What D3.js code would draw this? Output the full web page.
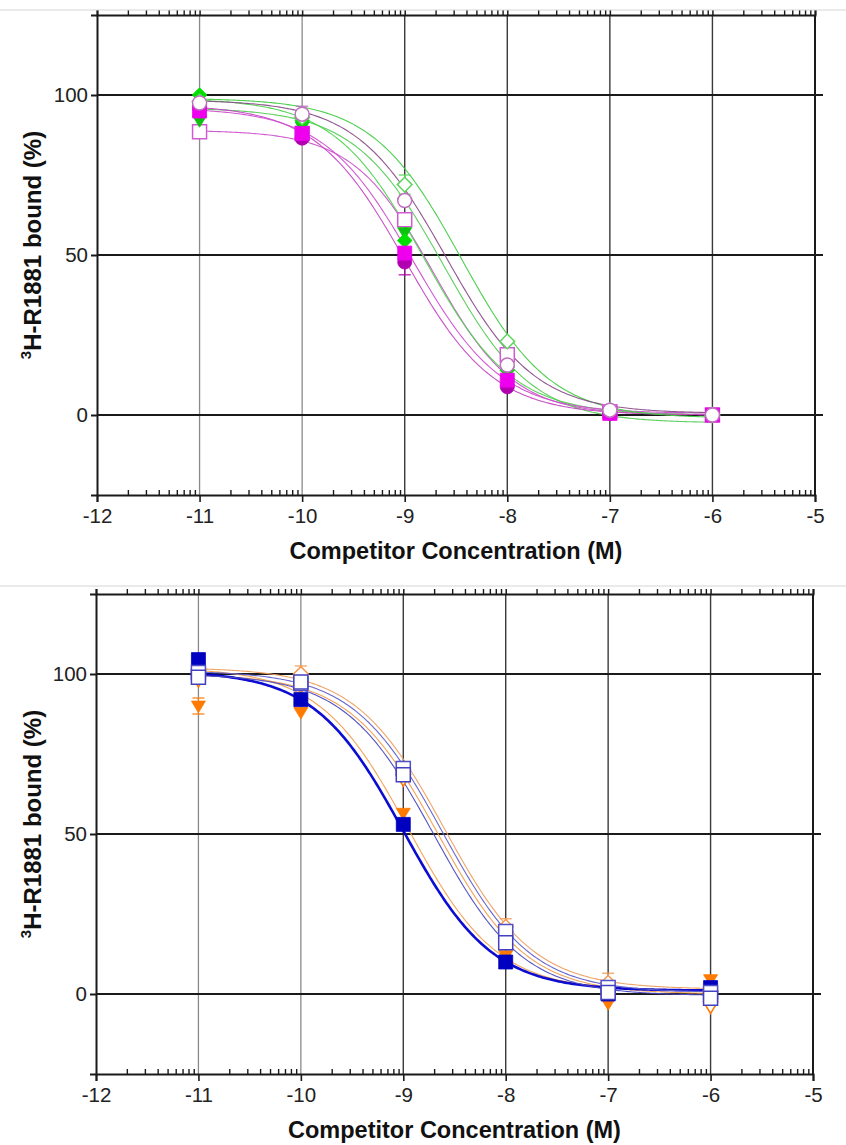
<!DOCTYPE html>
<html>
<head>
<meta charset="utf-8">
<script src="https://cdn.jsdelivr.net/npm/d3@7"></script>
<style>
  html, body { margin: 0; padding: 0; background: #fff; }
  svg { display: block; }
  text { font-family: "Liberation Sans", Arial, sans-serif; }
</style>
</head>
<body>
<svg id="chart" width="846" height="1145"></svg>
<script>
// Competition binding: log molar competitor concentration vs 3H-R1881 bound (%)
const logConc = [-11, -10, -9, -8, -7, -6];
const xTickValues = [-12, -11, -10, -9, -8, -7, -6, -5];
const yTickValues = [0, 50, 100];
const xDomain = [-12, -5];
const yDomain = [-25, 125];
const xTitle = "Competitor Concentration (M)";
const yTitleSup = "3";
const yTitleMain = "H-R1881 bound (%)";

// Upper panel: measured binding (%) at each concentration
const greenOpenDiamond   = [98, 93, 72, 23, 1.5, 0];
const greenFilledDiamond = [100, 92, 54.5, 14, 1, 0];
const greenFilledTri     = [92, 90, 57, 13.5, 1, 0];
const magentaOpenCircle  = [97.5, 94, 67, 15.6, 1.5, 0];
const magentaOpenSquare  = [88.5, 88, 61, 18.8, 1, 0];
const magentaFilledSq    = [95, 88, 50.6, 10.9, 0.5, 0];
const magentaFilledCirc  = [96, 86.5, 47.8, 8.8, 0.5, 0];

// Upper panel: error (±) per point
const greenOpenDiamondErr  = [0, 0, 3, 0, 0, 0];
const magentaOpenCircleErr = [0, 2.5, 0, 0, 0, 0];
const magentaFilledCircErr = [0, 0, 4, 0, 0, 0];

// Upper panel: fitted curve parameters [top, bottom, logIC50, hill]
const greenOpenDiamondFit   = [99, -1, -8.45, 1.0];
const greenFilledDiamondFit = [99, 0, -8.82, 1.0];
const greenFilledTriFit     = [96, -2.5, -8.62, 1.0];
const magentaOpenCircleFit  = [98.5, 0.5, -8.6, 1.0];
const magentaOpenSquareFit  = [89, 0, -8.72, 1.1];
const magentaFilledSqFit    = [96, 0.5, -8.92, 1.0];
const magentaFilledCircFit  = [97, 0, -9.0, 1.0];

// Lower panel: measured binding (%)
const blueFilledSquare  = [104.5, 92, 53, 10, 0, 2];
const blueOpenSquare    = [99, 97.5, 68.5, 16, 0.5, -1.3];
const blueOpenSquare2   = [100.5, 97, 70.5, 19.5, 2, 0.5];
const orangeFilledTri   = [90, 88, 56.5, 12, -3, 4.5];
const orangeOpenDiamond = [101.5, 100, 70, 21, 3.5, 1];
const orangeOpenTri     = [98, 96, 67, 18, 1, -4];

// Lower panel: error (±)
const orangeFilledTriErr   = [2.5, 0, 0, 0, 0, 0];
const orangeOpenDiamondErr = [0, 2.5, 0, 2.5, 3, 0];
const blueOpenSquareErr    = [0, 1.5, 1.5, 0, 0, 0];

// Lower panel: fitted curve parameters [top, bottom, logIC50, hill]
const blueFilledSquareFit  = [101, 1, -9.0, 1.0];
const blueOpenSquareFit    = [100, -0.5, -8.7, 1.0];
const blueOpenSquare2Fit   = [101, 0.5, -8.62, 1.0];
const orangeFilledTriFit   = [102, 1, -8.95, 1.0];
const orangeOpenDiamondFit = [102, 1.5, -8.6, 1.0];
const orangeOpenTriFit     = [100, 0, -8.66, 1.0];

// ---- drawing ----
const svg = d3.select("#chart");

// marker outlines (half-size s)
const shapes = {
  square: s => `M${-s},${-s}H${s}V${s}H${-s}Z`,
  circle: s => `M${-s},0A${s},${s} 0 1,0 ${s},0A${s},${s} 0 1,0 ${-s},0Z`,
  diamond: s => `M0,${-s * 1.05}L${s * 1.05},0L0,${s * 1.05}L${-s * 1.05},0Z`,
  triDown: s => `M${-s},${-s * 0.7}H${s}L0,${s * 0.95}Z`,
  triUp: s => `M${-s},${s * 0.7}H${s}L0,${-s * 0.95}Z`
};

function logistic(p) {
  const [top, bottom, ic, hill] = p;
  return x => bottom + (top - bottom) / (1 + Math.pow(10, (x - ic) * hill));
}

const minorTicks = [];
for (let d = -12; d < -5; d++) {
  for (let k = 2; k <= 9; k++) minorTicks.push(d + Math.log10(k));
}

function drawPanel(cfg) {
  const g = svg.append("g");
  const x = d3.scaleLinear().domain(xDomain).range([cfg.left, cfg.right]);
  const y = d3.scaleLinear().domain(yDomain).range([cfg.bottom, cfg.top]);

  // vertical grid lines at each decade
  g.append("g").selectAll("line")
    .data(xTickValues.slice(1, -1))
    .join("line")
    .attr("x1", d => x(d)).attr("x2", d => x(d))
    .attr("y1", cfg.top).attr("y2", cfg.bottom)
    .attr("stroke", d => d <= -10 ? "#8a8a8a" : "#3a3a3a")
    .attr("stroke-width", d => d <= -10 ? 1.3 : 1.4);

  // horizontal grid lines at 0, 50, 100 (run past the frame on the right)
  g.append("g").selectAll("line")
    .data(yTickValues)
    .join("line")
    .attr("x1", cfg.left).attr("x2", cfg.right + 8)
    .attr("y1", d => y(d)).attr("y2", d => y(d))
    .attr("stroke", "#1a1a1a")
    .attr("stroke-width", 2);

  // right frame edge
  g.append("line")
    .attr("x1", cfg.right).attr("x2", cfg.right)
    .attr("y1", cfg.top).attr("y2", cfg.bottom)
    .attr("stroke", "#1a1a1a").attr("stroke-width", 2);

  // bottom axis: major ticks outward with labels, minor ticks inward
  const bottomAxis = d3.axisBottom(x).tickValues(xTickValues).tickSize(7).tickPadding(6)
    .tickFormat(d => d3.format("d")(d).replace("−", "-"));
  const ba = g.append("g").attr("transform", `translate(0,${cfg.bottom})`).call(bottomAxis);
  ba.attr("font-size", 20.5).attr("font-family", "Liberation Sans, Arial, sans-serif");
  ba.select(".domain").attr("stroke", "#1a1a1a").attr("stroke-width", 2);
  ba.selectAll(".tick line").attr("stroke", "#1a1a1a").attr("stroke-width", 1.6);
  ba.selectAll(".tick text").style("font-size", "20.5px").attr("fill", "#222");
  const bm = g.append("g").attr("transform", `translate(0,${cfg.bottom})`)
    .call(d3.axisBottom(x).tickValues(minorTicks).tickSize(-5).tickFormat(""));
  bm.select(".domain").remove();
  bm.selectAll(".tick line").attr("stroke", "#1a1a1a").attr("stroke-width", 1.4);

  // top frame: major and minor ticks pointing outward
  const ta = g.append("g").attr("transform", `translate(0,${cfg.top})`)
    .call(d3.axisTop(x).tickValues(xTickValues).tickSize(5).tickFormat(""));
  ta.select(".domain").attr("stroke", "#1a1a1a").attr("stroke-width", 2);
  ta.selectAll(".tick line").attr("stroke", "#1a1a1a").attr("stroke-width", 1.5);
  const tm = g.append("g").attr("transform", `translate(0,${cfg.top})`)
    .call(d3.axisTop(x).tickValues(minorTicks).tickSize(5).tickFormat(""));
  tm.select(".domain").remove();
  tm.selectAll(".tick line").attr("stroke", "#1a1a1a").attr("stroke-width", 1.4);

  // left axis
  const la = g.append("g").attr("transform", `translate(${cfg.left},0)`)
    .call(d3.axisLeft(y).tickValues(yTickValues).tickSize(6).tickPadding(3));
  la.attr("font-size", 20.5).attr("font-family", "Liberation Sans, Arial, sans-serif");
  la.select(".domain").attr("stroke", "#1a1a1a").attr("stroke-width", 2);
  la.selectAll(".tick line").attr("stroke", "#1a1a1a").attr("stroke-width", 2);
  la.selectAll(".tick text").style("font-size", "20.5px").attr("fill", "#222");

  // axis titles
  g.append("text")
    .attr("x", (cfg.left + cfg.right) / 2)
    .attr("y", cfg.bottom + 64)
    .attr("text-anchor", "middle")
    .attr("font-size", 23.5).attr("font-weight", "bold").attr("fill", "#111")
    .text(xTitle);

  const yt = g.append("text")
    .attr("transform", `translate(41,${(cfg.top + cfg.bottom) / 2 - 10}) rotate(-90)`)
    .attr("text-anchor", "middle")
    .attr("font-size", 24).attr("font-weight", "bold").attr("fill", "#111");
  yt.append("tspan").attr("font-size", 15).attr("dy", -10).text(yTitleSup);
  yt.append("tspan").attr("dy", 10).text(yTitleMain);

  // fitted curves
  const xs = d3.range(-11, -5.999, 0.02);
  const line = d3.line().x(d => x(d[0])).y(d => y(d[1])).curve(d3.curveLinear);
  const curves = g.append("g").attr("fill", "none");
  cfg.series.forEach(s => {
    const f = logistic(s.fit);
    curves.append("path")
      .attr("d", line(xs.map(v => [v, f(v)])))
      .attr("stroke", s.curve)
      .attr("stroke-width", s.curveWidth || 1.1)
      .attr("stroke-opacity", 0.95);
  });

  // error bars
  const eb = g.append("g");
  cfg.series.forEach(s => {
    if (!s.err) return;
    logConc.forEach((c, i) => {
      const e = s.err[i];
      if (!e) return;
      const cx = x(c), y1 = y(s.values[i] - e), y2 = y(s.values[i] + e);
      eb.append("line").attr("x1", cx).attr("x2", cx).attr("y1", y1).attr("y2", y2)
        .attr("stroke", s.color).attr("stroke-width", 1.2);
      [y1, y2].forEach(yy => eb.append("line")
        .attr("x1", cx - 6).attr("x2", cx + 6).attr("y1", yy).attr("y2", yy)
        .attr("stroke", s.color).attr("stroke-width", 1.2));
    });
  });

  // markers
  cfg.series.forEach(s => {
    g.append("g").selectAll("path")
      .data(logConc.map((c, i) => [c, s.values[i]]))
      .join("path")
      .attr("transform", d => `translate(${x(d[0])},${y(d[1])})`)
      .attr("d", shapes[s.shape](s.size || 7))
      .attr("fill", s.filled ? s.color : "#fff")
      .attr("stroke", s.color)
      .attr("stroke-width", s.filled ? 0.8 : 1.5);
  });
}

drawPanel({
  left: 97, right: 815, top: 15, bottom: 495,
  series: [
    { values: magentaOpenSquare, fit: magentaOpenSquareFit, shape: "square", filled: false, color: "#d25ad2", curve: "#cc55cc" },
    { values: greenFilledTri, fit: greenFilledTriFit, shape: "triDown", filled: true, color: "#10c010", curve: "#55cc55" },
    { values: greenFilledDiamond, fit: greenFilledDiamondFit, shape: "diamond", filled: true, color: "#00e000", curve: "#4fd44f" },
    { values: magentaFilledCirc, err: magentaFilledCircErr, fit: magentaFilledCircFit, shape: "circle", filled: true, color: "#b000b0", curve: "#c548c5" },
    { values: magentaFilledSq, fit: magentaFilledSqFit, shape: "square", filled: true, color: "#ee00ee", curve: "#d050d0" },
    { values: greenOpenDiamond, err: greenOpenDiamondErr, fit: greenOpenDiamondFit, shape: "diamond", filled: false, color: "#5cd65c", curve: "#44cc44" },
    { values: magentaOpenCircle, err: magentaOpenCircleErr, fit: magentaOpenCircleFit, shape: "circle", filled: false, color: "#c070c0", curve: "#8a4f8a" }
  ]
});

drawPanel({
  left: 96, right: 813, top: 594, bottom: 1074,
  series: [
    { values: orangeOpenTri, fit: orangeOpenTriFit, shape: "triDown", filled: false, color: "#ff7a00", curve: "#f0a050" },
    { values: orangeFilledTri, err: orangeFilledTriErr, fit: orangeFilledTriFit, shape: "triDown", filled: true, color: "#ff7a00", curve: "#f0a050" },
    { values: orangeOpenDiamond, err: orangeOpenDiamondErr, fit: orangeOpenDiamondFit, shape: "diamond", filled: false, color: "#f59a50", curve: "#eda060" },
    { values: blueFilledSquare, fit: blueFilledSquareFit, shape: "square", filled: true, color: "#0000c0", curve: "#0000d0", curveWidth: 2.6 },
    { values: blueOpenSquare2, fit: blueOpenSquare2Fit, shape: "square", filled: false, color: "#5050c8", curve: "#6060cc" },
    { values: blueOpenSquare, err: blueOpenSquareErr, fit: blueOpenSquareFit, shape: "square", filled: false, color: "#4040c0", curve: "#4a4ac4" }
  ]
});

// thin separators framing each panel image
svg.append("g").selectAll("line")
  .data([10, 586])
  .join("line")
  .attr("x1", 0).attr("x2", 846)
  .attr("y1", d => d).attr("y2", d => d)
  .attr("stroke", "#d4d4d4").attr("stroke-width", 1);
</script>
</body>
</html>
